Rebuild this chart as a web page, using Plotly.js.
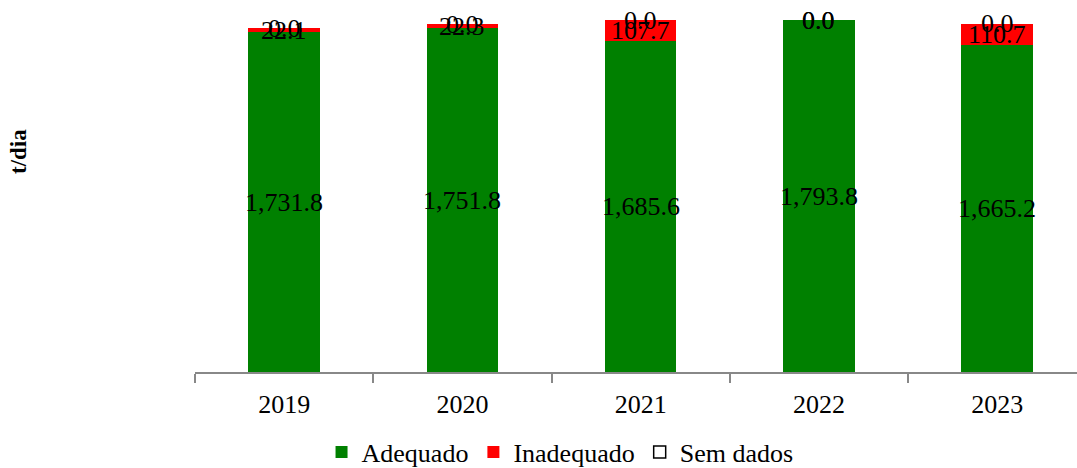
<!DOCTYPE html>
<html>
<head>
<meta charset="utf-8">
<script src="https://cdn.plot.ly/plotly-3.0.1.min.js"></script>
<style>html,body{margin:0;padding:0;background:#fff;}#chart{width:1077px;height:468px;}</style>
</head>
<body>
<div id="chart"></div>
<script>
const years = ['2019', '2020', '2021', '2022', '2023'];
const adequado = [1731.8, 1751.8, 1685.6, 1793.8, 1665.2];
const inadequado = [22.1, 22.3, 107.7, 0.0, 110.7];
const semDados = [0.0, 0.0, 0.0, 0.0, 0.0];

const FONT = '"Liberation Serif", "Times New Roman", serif';
const fmt = v => v.toLocaleString('en-US', {minimumFractionDigits: 1, maximumFractionDigits: 1});

const traces = [
  {type: 'bar', name: 'Adequado', x: years, y: adequado, marker: {color: '#008000', line: {width: 0}}, hoverinfo: 'skip'},
  {type: 'bar', name: 'Inadequado', x: years, y: inadequado, marker: {color: '#FF0000', line: {width: 0}}, hoverinfo: 'skip'},
  // zero-height segments draw nothing; keep legend entry (white box with black outline)
  {type: 'bar', name: 'Sem dados', x: years, y: semDados.map(v => v === 0 ? null : v),
    marker: {color: '#FFFFFF', line: {color: '#000000', width: 1.5}}, hoverinfo: 'skip'}
];

const annotations = [];
years.forEach((yr, i) => {
  const a = adequado[i], b = inadequado[i], c = semDados[i];
  [[a, 0], [b, a], [c, a + b]].forEach(([v, base]) => {
    annotations.push({x: i, y: base + v / 2, xref: 'x', yref: 'y', text: fmt(v), showarrow: false,
      font: {family: FONT, size: 26, color: '#000'}});
  });
});
annotations.push({text: '<b>t/dia</b>', textangle: -90, xref: 'paper', yref: 'paper', x: -0.2, y: 0.625,
  xanchor: 'center', yanchor: 'middle',
  showarrow: false, font: {family: FONT, size: 23, color: '#000'}});

const layout = {
  width: 1077, height: 468,
  margin: {l: 195, r: 0, t: 19, b: 96},
  barmode: 'stack', bargap: 0.6,
  paper_bgcolor: '#fff', plot_bgcolor: '#fff',
  font: {family: FONT, size: 26, color: '#000'},
  xaxis: {type: 'category', range: [-0.5, 4.448], showline: true, linecolor: '#888', linewidth: 2,
    ticks: 'outside', tickson: 'boundaries', ticklen: 9, tickcolor: '#888', tickwidth: 2,
    showgrid: false, zeroline: false, ticklabelstandoff: 8, tickfont: {family: FONT, size: 26, color: '#000'}},
  yaxis: {range: [0, 1800], visible: false, showgrid: false, zeroline: false},
  showlegend: true,
  legend: {orientation: 'h', xref: 'container', yref: 'container', x: 0.52, xanchor: 'center', y: 0.034, yanchor: 'middle',
    font: {family: FONT, size: 26, color: '#000'}, itemwidth: 30, tracegroupgap: 0, traceorder: 'normal'},
  annotations: annotations
};

Plotly.newPlot('chart', traces, layout, {displayModeBar: false, staticPlot: true});
</script>
</body>
</html>
